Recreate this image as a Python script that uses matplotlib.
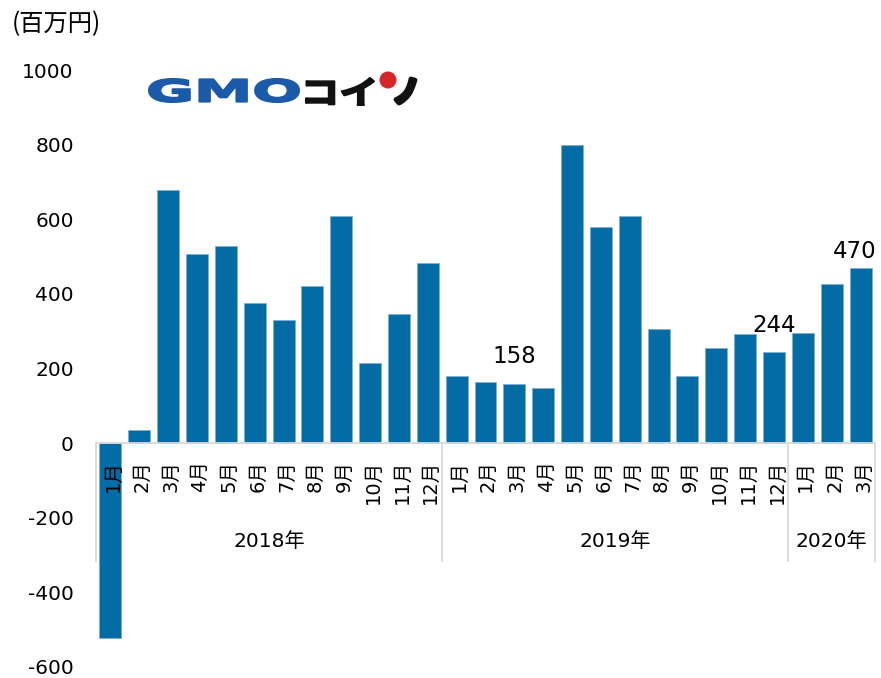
import matplotlib
matplotlib.use("Agg")
import matplotlib.pyplot as plt
from matplotlib.textpath import TextPath
from matplotlib.patches import PathPatch, Circle
from matplotlib.font_manager import FontProperties
from matplotlib.transforms import Affine2D

plt.rcParams['font.family'] = ['DejaVu Sans', 'Noto Sans CJK JP']
plt.rcParams['axes.unicode_minus'] = False

# --- data (百万円) ---
years = ['2018年', '2019年', '2020年']
months_per_year = [12, 12, 3]
month_labels = ['1月', '2月', '3月', '4月', '5月', '6月', '7月', '8月', '9月', '10月', '11月', '12月',
                '1月', '2月', '3月', '4月', '5月', '6月', '7月', '8月', '9月', '10月', '11月', '12月',
                '1月', '2月', '3月']
values = [-523, 35, 678, 507, 528, 375, 331, 422, 609, 216, 347, 484,
          180, 164, 158, 147, 798, 578, 608, 306, 181, 256, 293, 244,
          295, 427, 470]
labelled_idx = [14, 23, 26]

W, H, DPI = 881, 678, 100
BAR = '#036ca5'
GRID = '#d9d9d9'


def logo_text(fig, s, box, color, prop, lw=0):
    # stretch a text path into a pixel box (x0, top, x1, bottom)
    x0, top, x1, bottom = box
    tp = TextPath((0, 0), s, size=1, prop=prop)
    ext = tp.get_extents()
    sx = (x1 - x0) / DPI / ext.width
    sy = (bottom - top) / DPI / ext.height
    tr = (Affine2D().translate(-ext.x0, -ext.y0).scale(sx, sy)
          .translate(x0 / DPI, (H - bottom) / DPI) + fig.dpi_scale_trans)
    fig.add_artist(PathPatch(tp, transform=tr, fc=color, ec=color if lw else 'none',
                             lw=lw, joinstyle='round'))


fig = plt.figure(figsize=(W / DPI, H / DPI), dpi=DPI)
ax = fig.add_axes([96 / W, 11 / H, 779 / W, 597 / H])

x = list(range(len(values)))
ax.bar(x, values, width=0.76, color=BAR, edgecolor='#7fb0d2', linewidth=0.6, zorder=2)
ax.axhline(0, color=GRID, lw=1.3, zorder=3)

ax.set_xlim(-0.5, len(values) - 0.5)
ax.set_ylim(-600, 1000)
ax.set_yticks(range(-600, 1001, 200))
ax.tick_params(axis='y', length=0, pad=16, labelsize=14.5)
ax.set_xticks([])
for sp in ax.spines.values():
    sp.set_visible(False)

# month labels
for i, lab in enumerate(month_labels):
    ax.text(i + 0.1, -45, lab, rotation=90, ha='center', va='top', fontsize=14, zorder=4)

# year groups and separators
start = 0
seps = [-0.5]
for yr, n in zip(years, months_per_year):
    ax.text(start - 0.5 + n / 2, -264, yr, ha='center', va='center', fontsize=14.5)
    start += n
    seps.append(start - 0.5)
for s in seps:
    ax.plot([s, s], [0, -315], color=GRID, lw=1.3, zorder=3, clip_on=False)

# value labels
offsets = [(0, 58), (0, 55), (-0.2, 26)]
for i, (dx, dy) in zip(labelled_idx, offsets):
    ax.text(i + dx, values[i] + dy, str(values[i]), ha='center', va='baseline', fontsize=16.5)

fig.text(12 / W, 1 - 24 / H, '(百万円)', ha='left', va='center', fontsize=17.5,
         family=['Noto Sans CJK JP', 'DejaVu Sans'])

# logo
logo_text(fig, 'GMO', (149, 79, 299, 102), '#1a5aa9',
          FontProperties(family='DejaVu Sans', weight='bold'), lw=1.5)
cjk_bold = FontProperties(family='Noto Sans CJK JP', weight='bold')
logo_text(fig, 'コイ', (306, 78, 374, 105), '#111111', cjk_bold, lw=1.5)
logo_text(fig, 'ノ', (396, 79, 415, 103), '#111111', cjk_bold, lw=3.5)
fig.add_artist(Circle((388 / DPI, (H - 80) / DPI), 0.085, transform=fig.dpi_scale_trans,
                      fc='#d9262a', ec='none'))

fig.savefig('out.png', dpi=DPI)
